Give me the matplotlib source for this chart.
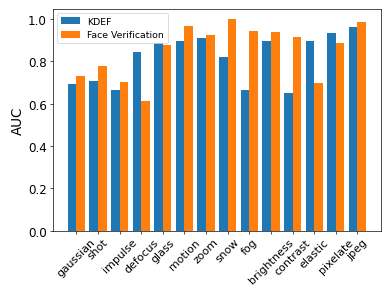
import matplotlib
matplotlib.use("Agg")
import matplotlib.pyplot as plt
import numpy as np

corruptions = ['gaussian', 'shot', 'impulse', 'defocus', 'glass', 'motion', 'zoom',
               'snow', 'fog', 'brightness', 'contrast', 'elastic', 'pixelate', 'jpeg']
kdef = [0.693, 0.708, 0.663, 0.845, 0.885, 0.897, 0.910,
        0.823, 0.664, 0.899, 0.649, 0.899, 0.935, 0.963]
face_verif = [0.732, 0.778, 0.705, 0.614, 0.880, 0.966, 0.925,
              1.000, 0.946, 0.938, 0.916, 0.697, 0.886, 0.985]

# default-size figure drawn at a low dpi, so the result is about 390x293
fig = plt.figure(figsize=(6.4, 4.8), dpi=61)
ax = fig.add_axes([0.135, 0.209, 0.841, 0.759])

x = np.arange(len(corruptions))
w = 0.4
ax.bar(x - w / 2, kdef, w, label='KDEF')
ax.bar(x + w / 2, face_verif, w, label='Face Verification')

ax.set_xticks(x)
ax.set_xticklabels(corruptions, rotation=45, fontsize=13)
ax.tick_params(axis='y', labelsize=14)
ax.set_ylabel('AUC', fontsize=16)
ax.legend(fontsize=11)

fig.savefig('out.png', dpi=61)
